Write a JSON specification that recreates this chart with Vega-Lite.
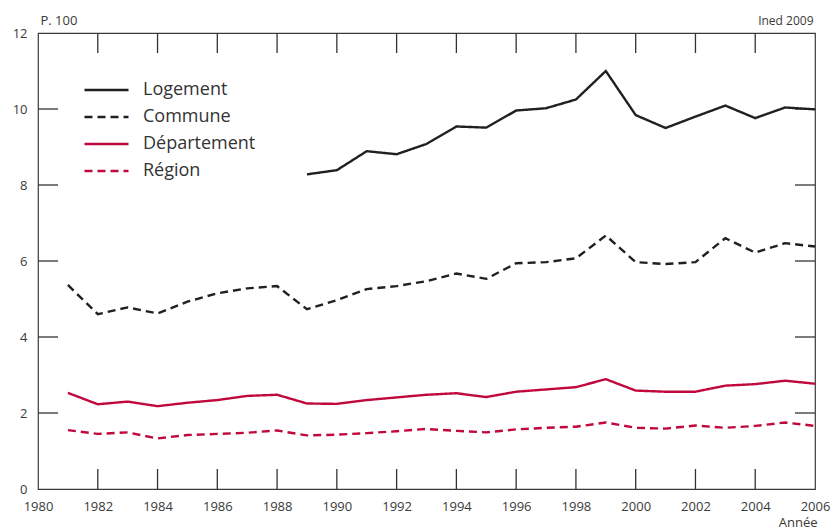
{
  "$schema": "https://vega.github.io/schema/vega-lite/v6.json",
  "width": 777,
  "height": 456,
  "autosize": {"type": "none"},
  "padding": {"left": 38, "top": 33, "right": 20, "bottom": 40},
  "background": "white",
  "config": {
    "view": {"stroke": "#3a3a3a", "strokeWidth": 1.2},
    "font": "Open Sans",
    "axis": {"domain": false, "ticks": false, "grid": false, "labelFont": "Open Sans", "labelFontSize": 13, "labelColor": "#3a3a3a", "titleFont": "Open Sans", "titleFontWeight": "normal", "titleColor": "#3a3a3a"}
  },
  "datasets": {
    "graduations": [
      {"annee": 1982, "valeur": 0, "bord": "bas"}, {"annee": 1982, "valeur": 12, "bord": "haut"},
      {"annee": 1984, "valeur": 0, "bord": "bas"}, {"annee": 1984, "valeur": 12, "bord": "haut"},
      {"annee": 1986, "valeur": 0, "bord": "bas"}, {"annee": 1986, "valeur": 12, "bord": "haut"},
      {"annee": 1988, "valeur": 0, "bord": "bas"}, {"annee": 1988, "valeur": 12, "bord": "haut"},
      {"annee": 1990, "valeur": 0, "bord": "bas"}, {"annee": 1990, "valeur": 12, "bord": "haut"},
      {"annee": 1992, "valeur": 0, "bord": "bas"}, {"annee": 1992, "valeur": 12, "bord": "haut"},
      {"annee": 1994, "valeur": 0, "bord": "bas"}, {"annee": 1994, "valeur": 12, "bord": "haut"},
      {"annee": 1996, "valeur": 0, "bord": "bas"}, {"annee": 1996, "valeur": 12, "bord": "haut"},
      {"annee": 1998, "valeur": 0, "bord": "bas"}, {"annee": 1998, "valeur": 12, "bord": "haut"},
      {"annee": 2000, "valeur": 0, "bord": "bas"}, {"annee": 2000, "valeur": 12, "bord": "haut"},
      {"annee": 2002, "valeur": 0, "bord": "bas"}, {"annee": 2002, "valeur": 12, "bord": "haut"},
      {"annee": 2004, "valeur": 0, "bord": "bas"}, {"annee": 2004, "valeur": 12, "bord": "haut"},
      {"annee": 1980, "valeur": 2, "bord": "gauche"}, {"annee": 2006, "valeur": 2, "bord": "droite"},
      {"annee": 1980, "valeur": 4, "bord": "gauche"}, {"annee": 2006, "valeur": 4, "bord": "droite"},
      {"annee": 1980, "valeur": 6, "bord": "gauche"}, {"annee": 2006, "valeur": 6, "bord": "droite"},
      {"annee": 1980, "valeur": 8, "bord": "gauche"}, {"annee": 2006, "valeur": 8, "bord": "droite"},
      {"annee": 1980, "valeur": 10, "bord": "gauche"}, {"annee": 2006, "valeur": 10, "bord": "droite"}
    ],
    "d": [
      {"annee": 1989, "serie": "Logement", "valeur": 8.28},
      {"annee": 1990, "serie": "Logement", "valeur": 8.39},
      {"annee": 1991, "serie": "Logement", "valeur": 8.89},
      {"annee": 1992, "serie": "Logement", "valeur": 8.81},
      {"annee": 1993, "serie": "Logement", "valeur": 9.08},
      {"annee": 1994, "serie": "Logement", "valeur": 9.54},
      {"annee": 1995, "serie": "Logement", "valeur": 9.51},
      {"annee": 1996, "serie": "Logement", "valeur": 9.96},
      {"annee": 1997, "serie": "Logement", "valeur": 10.02},
      {"annee": 1998, "serie": "Logement", "valeur": 10.25},
      {"annee": 1999, "serie": "Logement", "valeur": 11.0},
      {"annee": 2000, "serie": "Logement", "valeur": 9.84},
      {"annee": 2001, "serie": "Logement", "valeur": 9.5},
      {"annee": 2002, "serie": "Logement", "valeur": 9.8},
      {"annee": 2003, "serie": "Logement", "valeur": 10.09},
      {"annee": 2004, "serie": "Logement", "valeur": 9.76},
      {"annee": 2005, "serie": "Logement", "valeur": 10.04},
      {"annee": 2006, "serie": "Logement", "valeur": 9.99},
      {"annee": 1981, "serie": "Commune", "valeur": 5.37},
      {"annee": 1982, "serie": "Commune", "valeur": 4.6},
      {"annee": 1983, "serie": "Commune", "valeur": 4.78},
      {"annee": 1984, "serie": "Commune", "valeur": 4.62},
      {"annee": 1985, "serie": "Commune", "valeur": 4.93},
      {"annee": 1986, "serie": "Commune", "valeur": 5.15},
      {"annee": 1987, "serie": "Commune", "valeur": 5.28},
      {"annee": 1988, "serie": "Commune", "valeur": 5.34},
      {"annee": 1989, "serie": "Commune", "valeur": 4.73},
      {"annee": 1990, "serie": "Commune", "valeur": 4.97},
      {"annee": 1991, "serie": "Commune", "valeur": 5.26},
      {"annee": 1992, "serie": "Commune", "valeur": 5.34},
      {"annee": 1993, "serie": "Commune", "valeur": 5.47},
      {"annee": 1994, "serie": "Commune", "valeur": 5.67},
      {"annee": 1995, "serie": "Commune", "valeur": 5.53},
      {"annee": 1996, "serie": "Commune", "valeur": 5.94},
      {"annee": 1997, "serie": "Commune", "valeur": 5.97},
      {"annee": 1998, "serie": "Commune", "valeur": 6.07},
      {"annee": 1999, "serie": "Commune", "valeur": 6.67},
      {"annee": 2000, "serie": "Commune", "valeur": 5.97},
      {"annee": 2001, "serie": "Commune", "valeur": 5.92},
      {"annee": 2002, "serie": "Commune", "valeur": 5.97},
      {"annee": 2003, "serie": "Commune", "valeur": 6.6},
      {"annee": 2004, "serie": "Commune", "valeur": 6.22},
      {"annee": 2005, "serie": "Commune", "valeur": 6.47},
      {"annee": 2006, "serie": "Commune", "valeur": 6.38},
      {"annee": 1981, "serie": "Département", "valeur": 2.53},
      {"annee": 1982, "serie": "Département", "valeur": 2.23},
      {"annee": 1983, "serie": "Département", "valeur": 2.3},
      {"annee": 1984, "serie": "Département", "valeur": 2.18},
      {"annee": 1985, "serie": "Département", "valeur": 2.27},
      {"annee": 1986, "serie": "Département", "valeur": 2.34},
      {"annee": 1987, "serie": "Département", "valeur": 2.45},
      {"annee": 1988, "serie": "Département", "valeur": 2.48},
      {"annee": 1989, "serie": "Département", "valeur": 2.25},
      {"annee": 1990, "serie": "Département", "valeur": 2.24},
      {"annee": 1991, "serie": "Département", "valeur": 2.34},
      {"annee": 1992, "serie": "Département", "valeur": 2.41},
      {"annee": 1993, "serie": "Département", "valeur": 2.48},
      {"annee": 1994, "serie": "Département", "valeur": 2.52},
      {"annee": 1995, "serie": "Département", "valeur": 2.42},
      {"annee": 1996, "serie": "Département", "valeur": 2.56},
      {"annee": 1997, "serie": "Département", "valeur": 2.62},
      {"annee": 1998, "serie": "Département", "valeur": 2.68},
      {"annee": 1999, "serie": "Département", "valeur": 2.89},
      {"annee": 2000, "serie": "Département", "valeur": 2.59},
      {"annee": 2001, "serie": "Département", "valeur": 2.56},
      {"annee": 2002, "serie": "Département", "valeur": 2.56},
      {"annee": 2003, "serie": "Département", "valeur": 2.72},
      {"annee": 2004, "serie": "Département", "valeur": 2.76},
      {"annee": 2005, "serie": "Département", "valeur": 2.85},
      {"annee": 2006, "serie": "Département", "valeur": 2.77},
      {"annee": 1981, "serie": "Région", "valeur": 1.55},
      {"annee": 1982, "serie": "Région", "valeur": 1.45},
      {"annee": 1983, "serie": "Région", "valeur": 1.49},
      {"annee": 1984, "serie": "Région", "valeur": 1.33},
      {"annee": 1985, "serie": "Région", "valeur": 1.42},
      {"annee": 1986, "serie": "Région", "valeur": 1.45},
      {"annee": 1987, "serie": "Région", "valeur": 1.48},
      {"annee": 1988, "serie": "Région", "valeur": 1.54},
      {"annee": 1989, "serie": "Région", "valeur": 1.41},
      {"annee": 1990, "serie": "Région", "valeur": 1.43},
      {"annee": 1991, "serie": "Région", "valeur": 1.47},
      {"annee": 1992, "serie": "Région", "valeur": 1.52},
      {"annee": 1993, "serie": "Région", "valeur": 1.58},
      {"annee": 1994, "serie": "Région", "valeur": 1.53},
      {"annee": 1995, "serie": "Région", "valeur": 1.49},
      {"annee": 1996, "serie": "Région", "valeur": 1.57},
      {"annee": 1997, "serie": "Région", "valeur": 1.61},
      {"annee": 1998, "serie": "Région", "valeur": 1.64},
      {"annee": 1999, "serie": "Région", "valeur": 1.75},
      {"annee": 2000, "serie": "Région", "valeur": 1.61},
      {"annee": 2001, "serie": "Région", "valeur": 1.59},
      {"annee": 2002, "serie": "Région", "valeur": 1.67},
      {"annee": 2003, "serie": "Région", "valeur": 1.61},
      {"annee": 2004, "serie": "Région", "valeur": 1.66},
      {"annee": 2005, "serie": "Région", "valeur": 1.75},
      {"annee": 2006, "serie": "Région", "valeur": 1.66}
    ]
  },
  "resolve": {"scale": {"x": "independent", "y": "independent"}, "axis": {"x": "independent", "y": "independent"}},
  "layer": [
    {
      "data": {"name": "graduations"},
      "transform": [{"filter": "datum.bord === 'bas'"}],
      "mark": {"type": "tick", "orient": "vertical", "size": 20, "thickness": 1.3, "color": "#333333", "opacity": 1, "yOffset": -10},
      "encoding": {
        "x": {"field": "annee", "type": "quantitative", "scale": {"domain": [1980, 2006], "nice": false, "zero": false}, "axis": null},
        "y": {"field": "valeur", "type": "quantitative", "scale": {"domain": [0, 12], "nice": false}, "axis": null}
      }
    },
    {
      "data": {"name": "graduations"},
      "transform": [{"filter": "datum.bord === 'haut'"}],
      "mark": {"type": "tick", "orient": "vertical", "size": 20, "thickness": 1.3, "color": "#333333", "opacity": 1, "yOffset": 10},
      "encoding": {
        "x": {"field": "annee", "type": "quantitative", "scale": {"domain": [1980, 2006], "nice": false, "zero": false}, "axis": null},
        "y": {"field": "valeur", "type": "quantitative", "scale": {"domain": [0, 12], "nice": false}, "axis": null}
      }
    },
    {
      "data": {"name": "graduations"},
      "transform": [{"filter": "datum.bord === 'gauche'"}],
      "mark": {"type": "tick", "orient": "horizontal", "size": 20, "thickness": 1.3, "color": "#333333", "opacity": 1, "xOffset": 10},
      "encoding": {
        "x": {"field": "annee", "type": "quantitative", "scale": {"domain": [1980, 2006], "nice": false, "zero": false}, "axis": null},
        "y": {"field": "valeur", "type": "quantitative", "scale": {"domain": [0, 12], "nice": false}, "axis": null}
      }
    },
    {
      "data": {"name": "graduations"},
      "transform": [{"filter": "datum.bord === 'droite'"}],
      "mark": {"type": "tick", "orient": "horizontal", "size": 20, "thickness": 1.3, "color": "#333333", "opacity": 1, "xOffset": -10},
      "encoding": {
        "x": {"field": "annee", "type": "quantitative", "scale": {"domain": [1980, 2006], "nice": false, "zero": false}, "axis": null},
        "y": {"field": "valeur", "type": "quantitative", "scale": {"domain": [0, 12], "nice": false}, "axis": null}
      }
    },
    {
      "data": {"name": "d"},
      "mark": {"type": "line", "strokeWidth": 2.4, "clip": false},
      "encoding": {
        "x": {
          "field": "annee",
          "type": "quantitative",
          "scale": {"domain": [1980, 2006], "nice": false, "zero": false},
          "axis": {"orient": "bottom", "values": [1980, 1982, 1984, 1986, 1988, 1990, 1992, 1994, 1996, 1998, 2000, 2002, 2004, 2006], "format": "d", "labelPadding": 11, "labelFlush": false, "labelOverlap": false, "title": "Année", "titleAlign": "right", "titleBaseline": "top", "titleX": 779, "titleY": 27, "titleFontSize": 13}
        },
        "y": {
          "field": "valeur",
          "type": "quantitative",
          "scale": {"domain": [0, 12], "nice": false},
          "axis": {"orient": "left", "values": [0, 2, 4, 6, 8, 10, 12], "labelPadding": 11, "labelFlush": false, "title": "P. 100", "titleAngle": 0, "titleAlign": "left", "titleBaseline": "alphabetic", "titleX": 2, "titleY": -9, "titleFontSize": 13}
        },
        "color": {
          "field": "serie",
          "type": "nominal",
          "scale": {
            "domain": ["Logement", "Commune", "Département", "Région"],
            "range": ["#231f20", "#231f20", "#c0083c", "#c0083c"]
          },
          "legend": {
            "orient": "none",
            "legendX": 45,
            "legendY": 43.6,
            "title": null,
            "symbolType": "stroke",
            "symbolSize": 1936,
            "symbolStrokeWidth": 2.6,
            "labelFontSize": 18,
            "labelColor": "#333333",
            "labelOffset": 13,
            "clipHeight": 26.7,
            "rowPadding": 0
          }
        },
        "strokeDash": {
          "field": "serie",
          "type": "nominal",
          "scale": {
            "domain": ["Logement", "Commune", "Département", "Région"],
            "range": [[1, 0], [8, 5], [1, 0], [8, 5]]
          },
          "legend": null
        }
      }
    },
    {
      "data": {"name": "d"},
      "mark": {"type": "point", "opacity": 0},
      "encoding": {
        "x": {
          "field": "annee",
          "type": "quantitative",
          "scale": {"domain": [1980, 2006], "nice": false, "zero": false},
          "axis": {"orient": "top", "values": [1980, 2006], "labels": false, "title": "Ined 2009", "titleAlign": "right", "titleBaseline": "alphabetic", "titleX": 775, "titleY": -9, "titleFontSize": 12}
        },
        "y": {
          "field": "valeur",
          "type": "quantitative",
          "scale": {"domain": [0, 12], "nice": false},
          "axis": null
        }
      }
    }
  ]
}
